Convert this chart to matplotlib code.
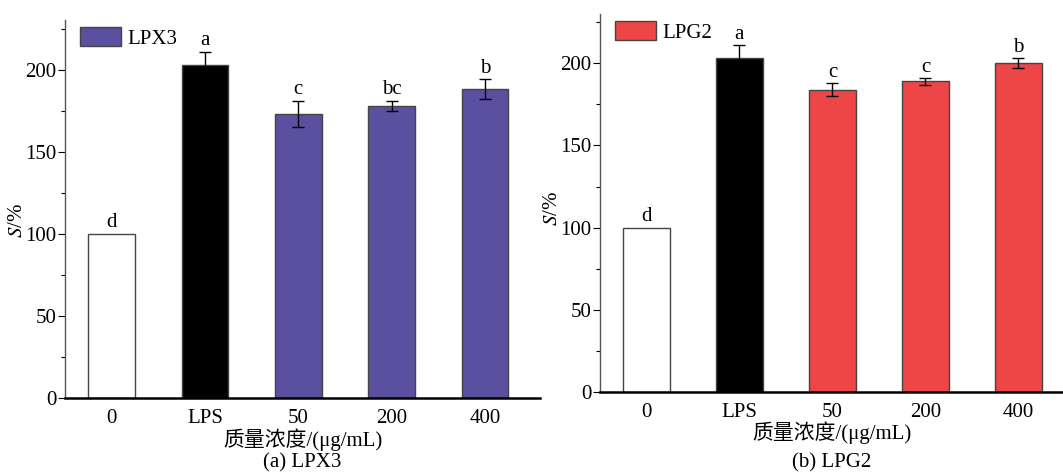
import numpy as np
import matplotlib.pyplot as plt
from matplotlib.patches import Patch

plt.rcParams['font.family'] = ['Liberation Serif', 'Noto Sans CJK SC']
plt.rcParams['mathtext.fontset'] = 'stix'

categories = ['0', 'LPS', '50', '200', '400']

# panel a: LPX3
lpx3_values = [100, 203, 173, 178, 188]
lpx3_errors = [0, 8, 8, 3, 6]
lpx3_letters = ['d', 'a', 'c', 'bc', 'b']

# panel b: LPG2
lpg2_values = [100, 203, 184, 189, 200]
lpg2_errors = [0, 8, 4, 2, 3]
lpg2_letters = ['d', 'a', 'c', 'c', 'b']

fig = plt.figure(figsize=(10.63, 4.72), dpi=100)
fs = 15


def draw_panel(rect, values, errors, letters, color, name, caption, xmax, cap_y, ylab_pos):
    ax = fig.add_axes(rect)
    x = np.arange(len(categories))
    colors = ['white', 'black', color, color, color]
    ax.bar(x, values, width=0.5, color=colors, edgecolor='#444444', linewidth=1.0, zorder=2)
    for i in range(1, len(x)):
        ax.errorbar(x[i], values[i], yerr=errors[i], fmt='none', ecolor='black',
                    elinewidth=1.0, capsize=4, capthick=1.0, zorder=3)
    for i in range(len(x)):
        ax.annotate(letters[i], (x[i], values[i] + errors[i]), xytext=(0, 1),
                    textcoords='offset points', ha='center', va='bottom', fontsize=fs)
    ax.set_xlim(-0.5, xmax)
    ax.set_ylim(0, 230)
    ax.set_yticks([0, 50, 100, 150, 200])
    ax.set_yticks([25, 75, 125, 175, 225], minor=True)
    ax.set_xticks(x)
    ax.set_xticklabels(categories)
    ax.tick_params(axis='y', which='major', direction='out', length=5, width=0.8, labelsize=fs, pad=1)
    ax.tick_params(axis='y', which='minor', direction='out', length=3, width=0.8)
    ax.tick_params(axis='x', length=0, labelsize=fs, pad=8)
    ax.spines['top'].set_visible(False)
    ax.spines['right'].set_visible(False)
    ax.spines['left'].set_color('#555555')
    ax.spines['left'].set_linewidth(1.0)
    ax.spines['bottom'].set_linewidth(1.8)
    ax.set_ylabel(r'$\mathit{S}$/%', fontsize=fs)
    ax.yaxis.set_label_coords(*ylab_pos)
    ax.set_xlabel('质量浓度/(μg/mL)', fontsize=fs, labelpad=0)
    ax.text(0.5, cap_y, caption, transform=ax.transAxes, ha='center', va='center', fontsize=fs)
    ax.legend(handles=[Patch(facecolor=color, edgecolor='#444444', label=name)],
              loc='upper left', bbox_to_anchor=(0.0, 1.02), frameon=False, fontsize=fs,
              handlelength=2.0, handleheight=1.0, handletextpad=0.3, borderaxespad=0.3)
    return ax


draw_panel([0.0611, 0.1568, 0.4469, 0.800], lpx3_values, lpx3_errors, lpx3_letters,
           '#5B4FA0', 'LPX3', '(a) LPX3', 4.59, -0.172, (-0.08, 0.47))
draw_panel([0.5644, 0.170, 0.4356, 0.800], lpg2_values, lpg2_errors, lpg2_letters,
           '#EE4547', 'LPG2', '(b) LPG2', 4.48, -0.189, (-0.082, 0.486))

plt.savefig('out.png', dpi=100)
